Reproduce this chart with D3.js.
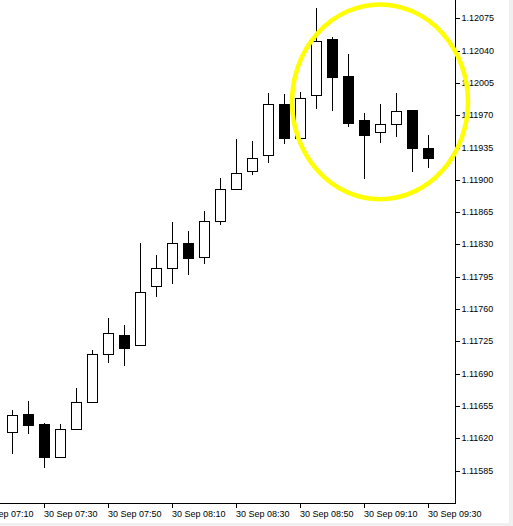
<!DOCTYPE html>
<html>
<head>
<meta charset="utf-8">
<script src="https://cdn.jsdelivr.net/npm/d3@7"></script>
<style>
  html, body { margin: 0; padding: 0; background: #f0f0f0; }
  svg { display: block; }
  text { font-family: "Liberation Sans", Arial, sans-serif; font-size: 9px; fill: #000; }
</style>
</head>
<body>
<svg id="chart" width="513" height="526"></svg>
<script>
// ---- data ----
const times = ["07:15","07:20","07:25","07:30","07:35","07:40","07:45","07:50","07:55","08:00",
               "08:05","08:10","08:15","08:20","08:25","08:30","08:35","08:40","08:45","08:50",
               "08:55","09:00","09:05","09:10","09:15","09:20","09:25","09:30"];
const open  = [1.11627,1.11627,1.11646,1.11636,1.11600,1.11630,1.11659,1.11711,1.11732,1.11721,
               1.11785,1.11805,1.11832,1.11817,1.11855,1.11890,1.11910,1.11927,1.11982,1.11945,
               1.11992,1.12053,1.12013,1.11965,1.11952,1.11961,1.11976,1.11935];
const high  = [1.11632,1.11651,1.11661,1.11637,1.11636,1.11675,1.11716,1.11750,1.11743,1.11832,
               1.11819,1.11854,1.11845,1.11866,1.11902,1.11944,1.11942,1.11994,1.11993,1.11995,
               1.12086,1.12055,1.12036,1.11972,1.11982,1.11994,1.11976,1.11949];
const low   = [1.11622,1.11604,1.11626,1.11589,1.11600,1.11630,1.11659,1.11703,1.11700,1.11721,
               1.11774,1.11788,1.11798,1.11810,1.11852,1.11890,1.11906,1.11919,1.11940,1.11945,
               1.11978,1.11976,1.11958,1.11902,1.11941,1.11947,1.11910,1.11914];
const close = [1.11627,1.11645,1.11635,1.11600,1.11630,1.11659,1.11711,1.11734,1.11718,1.11779,
               1.11805,1.11832,1.11815,1.11855,1.11890,1.11907,1.11924,1.11982,1.11945,1.11989,
               1.12050,1.12011,1.11962,1.11949,1.11961,1.11975,1.11934,1.11924];
const xTickLabels = ["07:10","07:30","07:50","08:10","08:30","08:50","09:10","09:30"];
const datePrefix = "30 Sep ";
const yTickLabels = ["1.12075","1.12040","1.12005","1.11970","1.11935","1.11900","1.11865",
                     "1.11830","1.11795","1.11760","1.11725","1.11690","1.11655","1.11620","1.11585"];
// highlighted region (time range and price range covered by the yellow ring)
const highlightTimes = ["08:47.5","09:42.5"];
const highlightPrices = [1.12090, 1.11879];

// ---- layout ----
const svg = d3.select("#chart");
const plotRight = 455, plotBottom = 503;
const toMin = s => { const [h, m] = s.split(":").map(Number); return h * 60 + m; };

const x = d3.scaleLinear().domain([toMin("07:30"), toMin("09:30")]).range([44, 428]);
const y = d3.scaleLinear().domain([1.11585, 1.12075]).range([470.7, 18.3]);

svg.append("rect").attr("x", 0).attr("y", 0).attr("width", 509).attr("height", 523).attr("fill", "#fff");

const clip = svg.append("defs").append("clipPath").attr("id", "plotclip");
clip.append("rect").attr("x", 0).attr("y", 0).attr("width", plotRight).attr("height", plotBottom);

const candles = times.map((t, i) => ({ t: toMin(t), o: open[i], h: high[i], l: low[i], c: close[i] }));

const g = svg.append("g").attr("clip-path", "url(#plotclip)");
const px = v => Math.round(v) + 0.5;
const cg = g.selectAll("g.c").data(candles).join("g").attr("class", "c");
cg.append("line")
  .attr("x1", d => px(x(d.t))).attr("x2", d => px(x(d.t)))
  .attr("y1", d => Math.round(y(d.h))).attr("y2", d => Math.round(y(d.l)) + 1)
  .attr("stroke", "#000").attr("stroke-width", 1).attr("shape-rendering", "crispEdges");
cg.append("rect")
  .attr("x", d => Math.round(x(d.t)) - 5 + 0.5)
  .attr("width", 10)
  .attr("y", d => px(y(Math.max(d.o, d.c))))
  .attr("height", d => Math.max(0, Math.round(y(Math.min(d.o, d.c))) - Math.round(y(Math.max(d.o, d.c)))))
  .attr("fill", d => d.c >= d.o ? "#fff" : "#000")
  .attr("stroke", "#000").attr("stroke-width", 1).attr("shape-rendering", "crispEdges");

// ---- axes ----
const yAxis = d3.axisRight(y)
  .tickValues(yTickLabels.map(Number))
  .tickFormat((d, i) => yTickLabels[i])
  .tickSize(4).tickPadding(2);
const ya = svg.append("g").attr("transform", `translate(${plotRight + 0.5},0)`).call(yAxis);
ya.select(".domain").remove();
ya.selectAll("line").attr("stroke", "#000").attr("shape-rendering", "crispEdges");
ya.selectAll(".tick").attr("transform", d => `translate(0,${Math.round(y(d)) + 0.5})`);
ya.selectAll("text").attr("font-family", "Liberation Sans, Arial, sans-serif").attr("font-size", 9)
  .attr("dy", "0.33em").attr("fill", "#000");

const xAxis = d3.axisBottom(x)
  .tickValues(xTickLabels.map(toMin))
  .tickFormat((d, i) => datePrefix + xTickLabels[i])
  .tickSize(4).tickPadding(3);
const xa = svg.append("g").attr("transform", `translate(0,${plotBottom + 0.5})`).call(xAxis);
xa.select(".domain").remove();
xa.selectAll(".tick").attr("transform", d => `translate(${Math.round(x(d)) + 0.5},0)`);
xa.selectAll("line").attr("stroke", "#000").attr("shape-rendering", "crispEdges");
xa.selectAll("text").attr("text-anchor", "start").attr("x", -0.5)
  .attr("font-family", "Liberation Sans, Arial, sans-serif").attr("font-size", 9).attr("fill", "#000");

// frame lines
svg.append("line").attr("x1", plotRight + 0.5).attr("x2", plotRight + 0.5).attr("y1", 0).attr("y2", plotBottom + 1)
  .attr("stroke", "#000").attr("shape-rendering", "crispEdges");
svg.append("line").attr("x1", 0).attr("x2", plotRight + 1).attr("y1", plotBottom + 0.5).attr("y2", plotBottom + 0.5)
  .attr("stroke", "#000").attr("shape-rendering", "crispEdges");

// ---- highlight ring ----
const hx0 = x(toMin(highlightTimes[0])), hx1 = x(toMin(highlightTimes[1]));
const hy0 = y(highlightPrices[0]), hy1 = y(highlightPrices[1]);
svg.append("ellipse")
  .attr("cx", (hx0 + hx1) / 2).attr("cy", (hy0 + hy1) / 2)
  .attr("rx", Math.abs(hx1 - hx0) / 2).attr("ry", Math.abs(hy1 - hy0) / 2)
  .attr("fill", "none").attr("stroke", "#ffff00").attr("stroke-width", 4.5);
</script>
</body>
</html>
